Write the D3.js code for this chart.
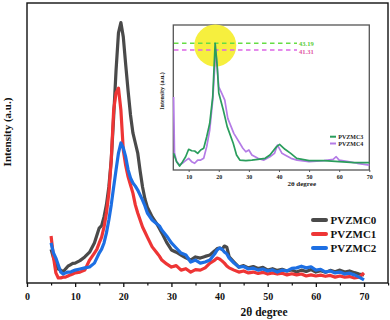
<!DOCTYPE html>
<html><head><meta charset="utf-8">
<script src="https://cdn.jsdelivr.net/npm/d3@7"></script>
<style>body{margin:0;background:#fff}svg{display:block}text{font-family:"Liberation Serif","Times New Roman",serif;font-weight:bold}</style>
</head><body>
<svg id="c" width="390" height="320"></svg>
<script>
// ---- data ----
const mainX = [5,5.5,6,6.5,7,7.5,8,8.5,9,9.5,10,11,12,13,14,14.5,15,15.5,16,16.5,17,17.5,18,18.5,19,19.5,20,20.5,21,21.5,22,22.5,23,23.5,24,24.5,25,26,27,27.5,28,29,30,31,32,33,34,35,36,37,38,39,39.5,40,40.5,41,41.5,42,43,44,45,46,47,48,49,50,51,52,53,54,55,56,57,58,59,60,61,62,63,64,65,66,67,68,69,70];
const pvzmc0 = [12,9,7,5,4.6,4,5,6,6.5,7,7.1,8,9.3,11,14.3,17,19.6,20.5,23.6,28,34.3,44,59.3,76,89.3,93,87.9,78,68.6,60,53.6,50,46.4,40,34.3,30,27.1,23.6,21,19.5,17.9,14.5,11.8,11,10,9,8.2,9.3,8.9,9.5,10,11.5,12.3,12.5,12,13.2,12.8,9.3,7.5,5.7,6.2,5.4,5.9,5.2,5.6,4.6,5.1,4.5,4.9,4.3,4.7,3.9,4.6,4.1,4.8,3.9,4.4,3.8,4.5,4.0,4.6,3.9,4.3,3.7,3.2,2.9];
const pvzmc1 = [16.8,9.3,3.6,1.8,1.8,2.1,2.1,2.5,2.9,3.2,3.6,3.9,4.6,8.2,10.7,12,14.3,16.4,20,25,32.1,43.9,61.8,67.9,69.6,61.8,47.5,42,37.9,35,32.1,27.9,25,22.5,20,18.2,16.4,12.9,10.7,9.6,8.2,6.8,5.7,6.2,4.6,5.1,3.9,4.8,4.6,5.4,7.1,8.2,8.9,8.6,7.9,7.1,6.1,5.4,4.6,3.9,4.3,3.6,3.9,3.4,3.8,3.2,3.6,3.2,3.5,2.9,3.3,2.9,3.2,2.5,2.9,2.5,2.8,2.4,2.7,2.1,2.5,2.1,2.3,1.8,2.1,3.6];
const pvzmc2 = [14.3,10.7,8.9,6.4,3.9,3.2,3.6,3.9,3.9,4.3,4.6,5,5.4,5.7,7.1,8.9,10.7,12.1,14.3,17.9,22.5,27.9,34.3,40.4,46.4,50,48.2,45,40.4,37.5,35.7,34.6,33.2,31.4,29.6,27.5,25,22.5,21.1,20.4,18.9,16.8,14.3,12.5,10.7,10,7.5,8.2,7.1,7.5,8.2,10.4,11.8,12.5,12.1,11.1,10.4,8.9,7.1,5.7,5.9,5.0,5.3,4.6,5.0,4.3,4.7,3.9,4.6,4.3,5.2,5.4,6.0,5.4,5.8,4.6,4.9,3.9,4.3,3.6,3.9,3.2,3.5,2.9,2.1,1.1];
const mainNames = ["PVZMC0","PVZMC1","PVZMC2"];
const mainColors = ["#4a4a4a","#ee3535","#1d6fe3"];
const mainTicks = [0,10,20,30,40,50,60,70];

const pvzmc3X = [5,6,7,8,9,10,11,12,13,14,15,16,17,18,18.8,19.5,20,21.5,22.8,24.8,25.9,27,29,31,33,35.4,37,39.2,40.2,42,43.9,45.9,50,55,60,65,70];
const pvzmc3 = [11.4,5.7,2.7,5.7,9.1,14.2,13.2,13,11.4,13.7,14.9,22.8,32,50.2,86.8,70.8,52.7,41.1,29.7,18.3,10.3,6.8,6.4,6.8,7.3,8,10.3,16,17.6,14.2,11.4,8,6.4,6.4,5.7,5,5];
const pvzmc4X = [5,5.3,6,7,8,9,10,11,12,13,14,15,16,17,18,19,20,21,22,23,25,27,28,29,30,31,33,35,37,38.5,39.5,41,42,44,46,50,55,58,59,60,63,66,70];
const pvzmc4 = [50,11.6,5.7,3.4,4.8,6.4,8,5.7,4.6,6.8,6.8,8,16,27.4,47.9,82.2,57,52.5,47.9,35.4,25.1,18.3,14.9,12.5,13.7,10.3,8,6.8,9.1,11.4,17.1,11.4,10.3,8,6.8,5.7,6.4,7.3,9.1,6.8,5.7,4.6,3.4];
const insetNames = ["PVZMC3","PVZMC4"];
const insetColors = ["#2a9d5c","#b47ce6"];
const insetTicks = [10,20,30,40,50,60,70];
const peakLabels = ["43.19","41.31"];
const peakValues = [86.8,82.2];
const peakColors = ["#66dd44","#dd66e6"];
const peakTextColors = ["#55cc33","#e0559f"];

// ---- chart ----
const svg = d3.select("#c");
const L=27, R=388, T=3, B=283;
const x = d3.scaleLinear().domain([0,75]).range([L,L+(364-27)*75/70]);
const y = d3.scaleLinear().domain([0,100]).range([B,T]);

svg.append("rect").attr("x",L).attr("y",T).attr("width",R-L).attr("height",B-T).attr("fill","none").attr("stroke","#111").attr("stroke-width",1.4);
const xa = svg.append("g").attr("transform",`translate(0,${B})`)
  .call(d3.axisBottom(x).tickValues(mainTicks).tickSize(4).tickFormat(d3.format("d")));
xa.select(".domain").remove();
xa.selectAll("line").attr("stroke","#111").attr("stroke-width",1.3);
xa.selectAll("text").attr("font-size",10).attr("font-family","Liberation Serif").attr("font-weight","bold").attr("fill","#111").attr("dy","0.95em");
const minor = svg.append("g").attr("transform",`translate(0,${B})`)
  .call(d3.axisBottom(x).tickValues([5,15,25,35,45,55,65,75]).tickSize(2.5).tickFormat(""));
minor.select(".domain").remove();
minor.selectAll("line").attr("stroke","#111").attr("stroke-width",1.2);

svg.append("text").attr("x",264).attr("y",316).attr("text-anchor","middle").attr("font-size",11.5).attr("fill","#111").text("2θ degree");
svg.append("text").attr("transform","translate(11,132) rotate(-90)").attr("text-anchor","middle").attr("font-size",11).attr("fill","#111").text("Intensity (a.u.)");

const line = d3.line().x(d=>x(d[0])).y(d=>y(d[1]));
[pvzmc0,pvzmc1,pvzmc2].forEach((s,i)=>{
  svg.append("path").datum(mainX.map((xx,j)=>[xx,s[j]])).attr("d",line)
   .attr("fill","none").attr("stroke",mainColors[i]).attr("stroke-width",3.2).attr("stroke-linejoin","round");
});

mainNames.forEach((n,i)=>{
  const yy = 220 + i*14;
  svg.append("line").attr("x1",313).attr("x2",326).attr("y1",yy).attr("y2",yy).attr("stroke",mainColors[i]).attr("stroke-width",4).attr("stroke-linecap","round");
  svg.append("text").attr("x",330.5).attr("y",yy+4).attr("font-size",11).attr("fill","#111").text(n);
});

// ---- inset ----
const ix = d3.scaleLinear().domain([5,70]).range([173.6,369.3]);
const iy = d3.scaleLinear().domain([0,100]).range([170,24]);
const g = svg.append("g");
g.append("rect").attr("x",173.3).attr("y",25).attr("width",369.3-173.3).attr("height",170-25).attr("fill","#fff").attr("stroke","#555").attr("stroke-width",1.3);
g.append("circle").attr("cx",215.3).attr("cy",45.5).attr("r",21).attr("fill","#f6ef3e");
peakValues.forEach((v,i)=>{
  g.append("line").attr("x1",174).attr("x2",297).attr("y1",iy(v)).attr("y2",iy(v)).attr("stroke",peakColors[i]).attr("stroke-width",1.4).attr("stroke-dasharray","4.5,3.5");
  g.append("text").attr("x",299).attr("y",iy(v)+2.5+(i?1.5:0)).attr("font-size",6.5).attr("fill",peakTextColors[i]).text(peakLabels[i]);
});
const iline = d3.line().x(d=>ix(d[0])).y(d=>iy(d[1]));
[[pvzmc4X,pvzmc4],[pvzmc3X,pvzmc3]].forEach((p,k)=>{
  const i = 1-k;
  g.append("path").datum(p[0].map((xx,j)=>[xx,p[1][j]])).attr("d",iline).attr("fill","none").attr("stroke",insetColors[i]).attr("stroke-width",1.7).attr("stroke-linejoin","round");
});
const ixa = g.append("g").attr("transform","translate(0,170)").call(d3.axisBottom(ix).tickValues(insetTicks).tickSize(2).tickFormat(d3.format("d")));
ixa.select(".domain").remove();
ixa.selectAll("line").attr("stroke","#555");
ixa.selectAll("text").attr("font-size",6).attr("font-family","Liberation Serif").attr("font-weight","bold").attr("fill","#222").attr("dy","0.6em");
g.append("text").attr("x",301.7).attr("y",185.5).attr("text-anchor","middle").attr("font-size",7).attr("fill","#222").text("2θ degree");
g.append("text").attr("transform","translate(164,91) rotate(-90)").attr("text-anchor","middle").attr("font-size",6).attr("fill","#222").text("Intensity (a.u.)");
insetNames.forEach((n,i)=>{
  const yy = 136.7 + i*6.8;
  g.append("line").attr("x1",330).attr("x2",336).attr("y1",yy).attr("y2",yy).attr("stroke",insetColors[i]).attr("stroke-width",2);
  g.append("text").attr("x",338.3).attr("y",yy+2).attr("font-size",6).attr("fill","#222").text(n);
});
</script>
</body></html>
